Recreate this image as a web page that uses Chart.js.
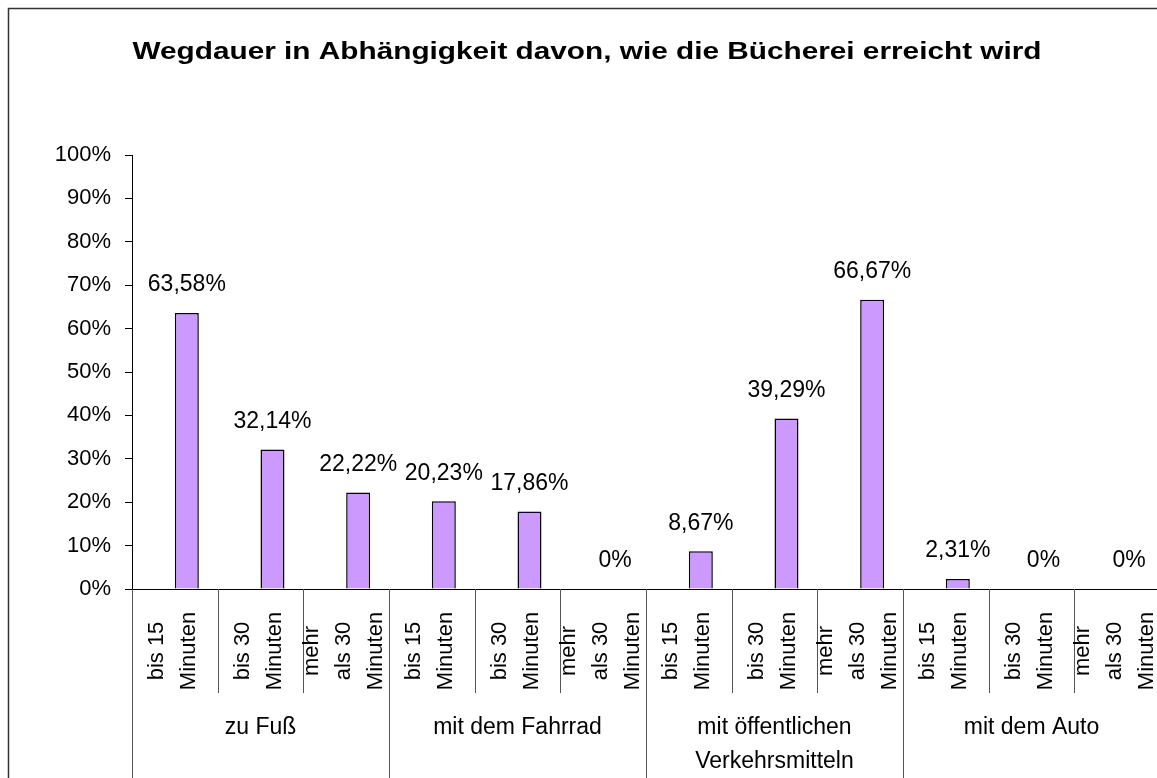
<!DOCTYPE html>
<html>
<head>
<meta charset="utf-8">
<script src="https://cdn.jsdelivr.net/npm/chart.js@4.4.1/dist/chart.umd.min.js"></script>
<style>
  html, body { margin: 0; padding: 0; background: #fff; overflow: hidden; }
  #wrap { width: 1170px; height: 778px; }
</style>
</head>
<body>
<div id="wrap"><canvas id="chart" width="1170" height="778"></canvas></div>
<script>
// Chart data ------------------------------------------------------------------

const categories = [
	['bis 15', 'Minuten'], ['bis 30', 'Minuten'], ['mehr', 'als 30', 'Minuten'],
	['bis 15', 'Minuten'], ['bis 30', 'Minuten'], ['mehr', 'als 30', 'Minuten'],
	['bis 15', 'Minuten'], ['bis 30', 'Minuten'], ['mehr', 'als 30', 'Minuten'],
	['bis 15', 'Minuten'], ['bis 30', 'Minuten'], ['mehr', 'als 30', 'Minuten']
];

const groups = [
	['zu Fuß'],
	['mit dem Fahrrad'],
	['mit öffentlichen', 'Verkehrsmitteln'],
	['mit dem Auto']
];

// the original sheet has an empty first series, which pushes the bars right
const emptySeries = [null, null, null, null, null, null, null, null, null, null, null, null];
const shareValues = [63.58, 32.14, 22.22, 20.23, 17.86, 0, 8.67, 39.29, 66.67, 2.31, 0, 0];

const yMin = 0;
const yMax = 100;
const yStep = 10;

const TITLE = 'Wegdauer in Abhängigkeit davon, wie die Bücherei erreicht wird';

// Style ----------------------------------------------------------------------

const FONT_FAMILY = '"Liberation Sans", Arial, sans-serif';
const COLORS = {
	bar: '#CC99FF',
	barBorder: '#000',
	text: '#000',
	axis: '#000',
	separator: '#555',
	frame: '#333'
};

function formatPercent(v) {
	if (v === 0) return '0%';
	return v.toFixed(2).replace('.', ',') + '%';
}

// Plugins --------------------------------------------------------------------

const frame = {
	id: 'frame',
	beforeDraw(chart) {
		const { ctx, width, height } = chart;
		ctx.save();
		ctx.fillStyle = '#fff';
		ctx.fillRect(0, 0, width, height);
		ctx.strokeStyle = COLORS.frame;
		ctx.lineWidth = 1.5;
		ctx.strokeRect(8.5, 8.5, width + 20, height + 20);
		ctx.restore();
	}
};

// title is drawn a bit wider than the font, as in the original export
const wideTitle = {
	id: 'wideTitle',
	afterDraw(chart) {
		const { ctx, width } = chart;
		ctx.save();
		ctx.font = 'bold 24px ' + FONT_FAMILY;
		ctx.fillStyle = COLORS.text;
		ctx.textAlign = 'center';
		ctx.textBaseline = 'middle';
		ctx.translate(width / 2 + 2, 52);
		ctx.scale(1.24, 1);
		ctx.fillText(TITLE, 0, 0);
		ctx.restore();
	}
};

const barValues = {
	id: 'barValues',
	afterDatasetsDraw(chart) {
		const { ctx } = chart;
		const meta = chart.getDatasetMeta(1);
		ctx.save();
		ctx.font = '23px ' + FONT_FAMILY;
		ctx.fillStyle = COLORS.text;
		ctx.textAlign = 'center';
		ctx.textBaseline = 'middle';
		meta.data.forEach((bar, i) => {
			ctx.fillText(formatPercent(shareValues[i]), bar.x, bar.y - 28);
		});
		ctx.restore();
	}
};

const groupedAxis = {
	id: 'groupedAxis',
	afterDraw(chart) {
		const { ctx, chartArea, height } = chart;
		const x = chart.scales.x;
		const slot = x.getPixelForValue(1) - x.getPixelForValue(0);
		const bottom = chartArea.bottom;

		ctx.save();
		// separators between categories, longer ones between groups
		ctx.strokeStyle = COLORS.separator;
		ctx.lineWidth = 1;
		for (let i = 0; i <= categories.length; i++) {
			const px = Math.round(x.getPixelForValue(0) - slot / 2 + i * slot) + 0.5;
			const end = (i % 3 === 0) ? height : bottom + 104;
			ctx.beginPath();
			ctx.moveTo(px, bottom);
			ctx.lineTo(px, end);
			ctx.stroke();
		}

		// rotated category labels
		ctx.fillStyle = COLORS.text;
		ctx.font = '22px ' + FONT_FAMILY;
		ctx.textAlign = 'center';
		ctx.textBaseline = 'middle';
		const lineGap = 32;
		categories.forEach((lines, i) => {
			const cx = x.getPixelForValue(i) - 2;
			lines.forEach((line, k) => {
				const lx = cx + (k - (lines.length - 1) / 2) * lineGap;
				ctx.save();
				ctx.translate(lx, bottom + 62);
				ctx.rotate(-Math.PI / 2);
				ctx.fillText(line, 0, 0);
				ctx.restore();
			});
		});

		// group labels
		ctx.font = '23px ' + FONT_FAMILY;
		groups.forEach((lines, g) => {
			const gx = x.getPixelForValue(g * 3 + 1);
			lines.forEach((line, k) => {
				ctx.fillText(line, gx, bottom + 139 + k * 34);
			});
		});
		ctx.restore();
	}
};

// Chart ----------------------------------------------------------------------

new Chart(document.getElementById('chart'), {
	type: 'bar',
	data: {
		labels: categories,
		datasets: [
			{
				label: 'leer',
				data: emptySeries,
				backgroundColor: COLORS.bar,
				borderColor: COLORS.barBorder,
				borderWidth: 1.5
			},
			{
				label: 'Anteil',
				data: shareValues,
				backgroundColor: COLORS.bar,
				borderColor: COLORS.barBorder,
				borderWidth: 1.5
			}
		]
	},
	options: {
		responsive: false,
		animation: false,
		devicePixelRatio: 1,
		categoryPercentage: 0.56,
		barPercentage: 1,
		layout: { padding: { left: 0, right: 10, top: 155, bottom: 0 } },
		plugins: {
			legend: { display: false },
			tooltip: { enabled: false },
			title: { display: false }
		},
		scales: {
			x: {
				grid: { display: false },
				border: { display: true, color: COLORS.axis, width: 1 },
				ticks: { display: false },
				afterFit(scale) { scale.height = 189; }
			},
			y: {
				min: yMin,
				max: yMax,
				grid: {
					drawOnChartArea: false,
					drawTicks: true,
					tickLength: 7,
					color: COLORS.axis
				},
				border: { display: true, color: COLORS.axis, width: 1 },
				ticks: {
					stepSize: yStep,
					padding: 14,
					color: COLORS.text,
					font: { family: FONT_FAMILY, size: 22 },
					callback: (v) => v + '%'
				},
				afterFit(scale) { scale.width = 132; }
			}
		}
	},
	plugins: [frame, barValues, groupedAxis, wideTitle]
});
</script>
</body>
</html>
